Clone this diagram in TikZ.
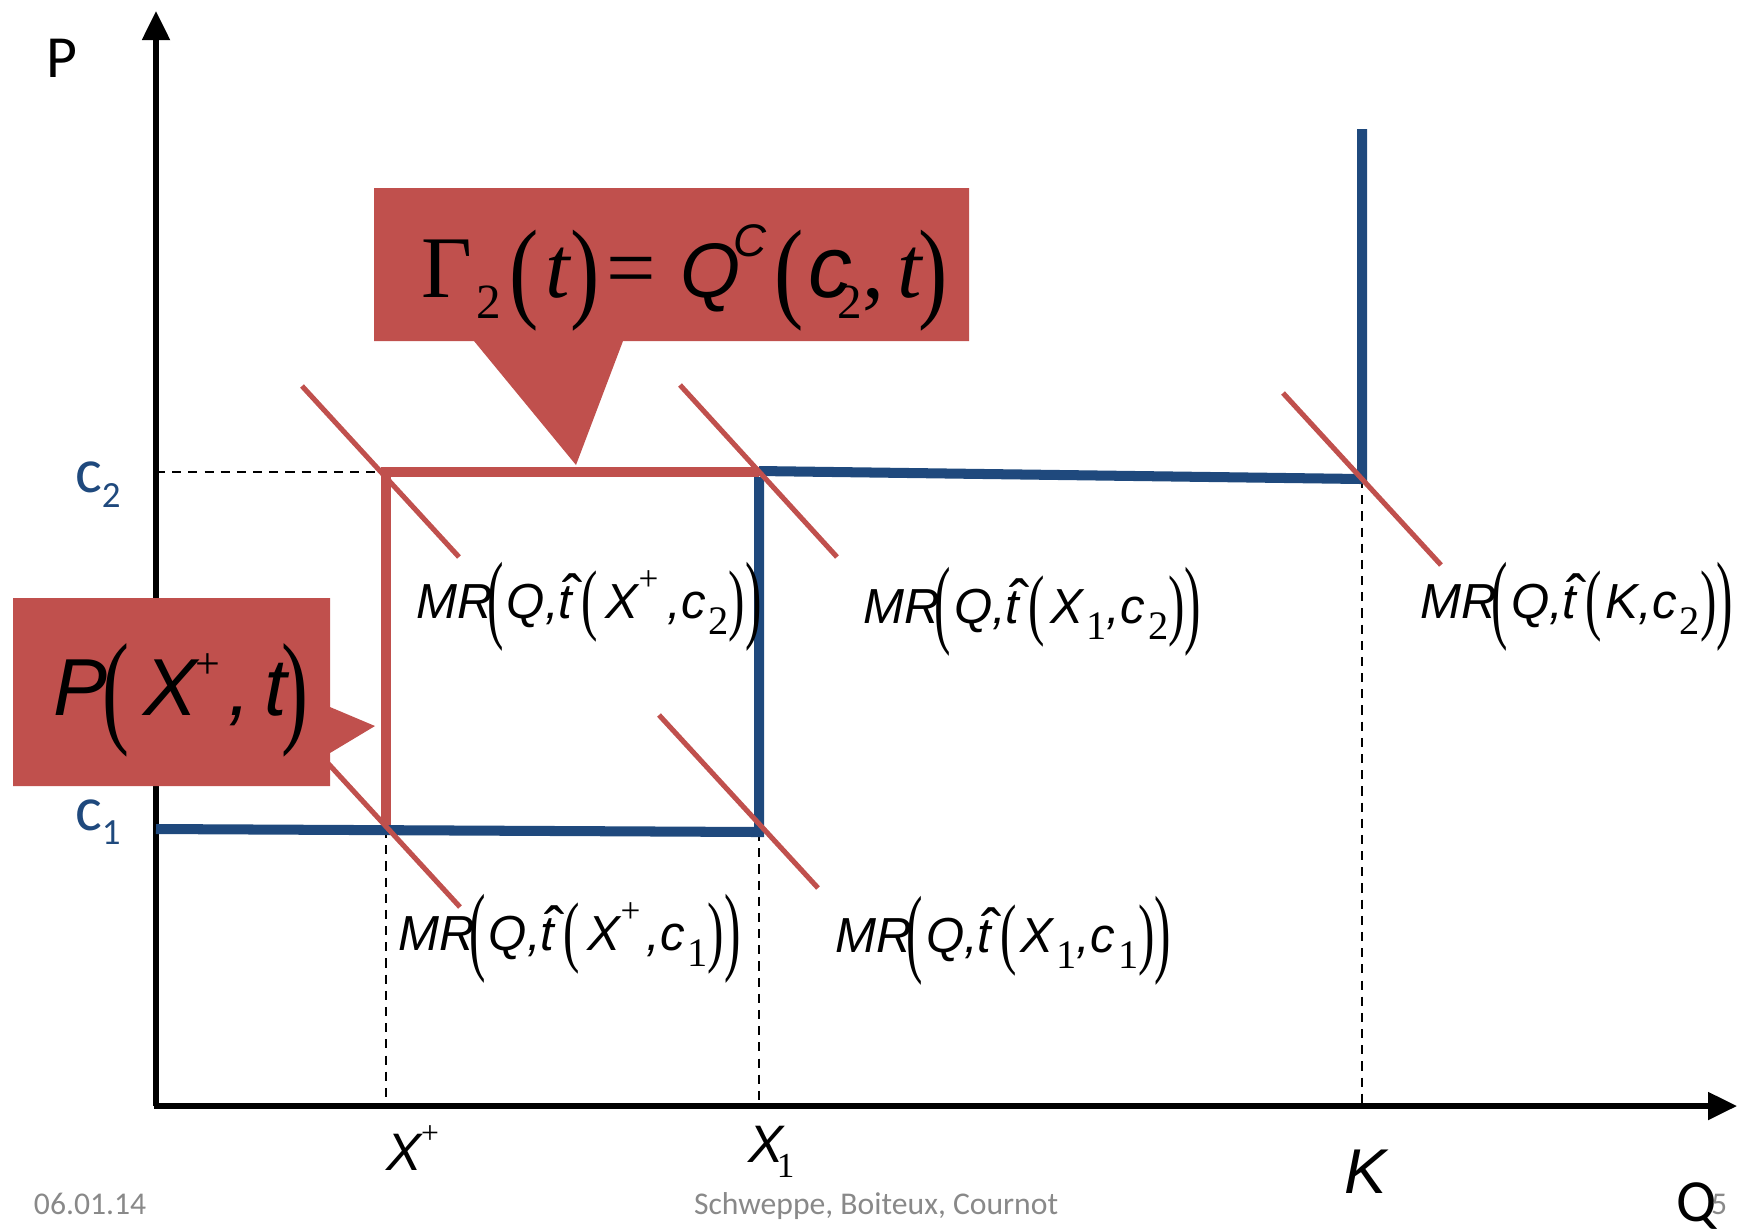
\documentclass[tikz,border=0pt]{standalone}
\usepackage{fontspec}
\usepackage{graphicx}
\usetikzlibrary{arrows.meta}
\setmainfont{Liberation Serif}
\newfontfamily\arl{Liberation Sans}
\newfontfamily\tms{Liberation Serif}
\newfontfamily\crl{Carlito}
\definecolor{cred}{RGB}{192,80,77}
\definecolor{cblue}{RGB}{31,73,125}
\definecolor{cgray}{RGB}{137,137,137}
% label helpers
\newcommand\hatt{\makebox[0pt][l]{\kern0.07em\scalebox{1.25}{\arl\upshape\char"02C6}}t\kern0.18em}
\newcommand\Lo{\kern-0.1em\raisebox{-0.26em}{\scalebox{1}[2.0]{\tms\upshape(}}\kern0.06em}
\newcommand\Ro{\raisebox{-0.26em}{\scalebox{1}[2.0]{\tms\upshape)}}}
\newcommand\Li{\raisebox{-0.16em}{\scalebox{1}[1.6]{\tms\upshape(}}\kern0.08em}
\newcommand\Ri{\raisebox{-0.16em}{\scalebox{1}[1.6]{\tms\upshape)}}}
\newcommand\Sb[1]{\kern0.06em\raisebox{-0.34em}{\fontsize{11.5}{11.5}\selectfont\tms\upshape #1}}
\newcommand\Sp[1]{\raisebox{0.55em}{\fontsize{10}{10}\selectfont\tms\upshape #1}}
\newcommand\mrfont{\fontsize{14}{14}\selectfont\arl\itshape}
\begin{document}
\begin{tikzpicture}[x=0.01cm,y=-0.01cm,
  lbl/.style={inner sep=0pt, outer sep=0pt, anchor=base west},
  axisline/.style={line width=1.45pt, draw=black},
  bluel/.style={line width=2.85pt, draw=cblue},
  redl/.style={line width=3.1pt, draw=cred},
  mrl/.style={line width=1.45pt, draw=cred},
  guide/.style={line width=0.6pt, dash pattern=on 2.6pt off 2pt},
  tip/.style={-{Triangle[width=0.27cm,length=0.29cm]}}
]
\useasboundingbox (0,0) rectangle (1755,1229);
% coordinates
\coordinate (O) at (156,1106);
\coordinate (Ytop) at (156,11);
\coordinate (Xend) at (1737,1106);
\coordinate (A) at (386,472);   % X+, c2
\coordinate (B) at (759,472);   % X1, c2
\coordinate (Ka) at (1362,479); % K, c2
\coordinate (Kt) at (1362,129);
\coordinate (A1) at (386,829);
\coordinate (B1) at (759,832);
\coordinate (Y1) at (156,829);
\coordinate (Y2) at (156,472);
\coordinate (Ab) at (386,1106);
\coordinate (Bb) at (759,1106);
\coordinate (Kb) at (1362,1106);
% dashed guides
\draw[guide] (Y2) -- (A);
\draw[guide] (A1) -- (Ab);
\draw[guide] (B1) -- (Bb);
\draw[guide] (Ka) -- (Kb);
% axes
\draw[axisline, tip] (O) -- (Ytop);
\draw[axisline, tip] ([xshift=-0.7pt]O) -- (Xend);
% red rectangle
\draw[redl] (A1) -- (A) -- (B);
% blue supply
\draw[bluel] (Y1) -- (B1) -- (759,477);
\draw[bluel] (759,471) -- (Ka) -- (Kt);
% MR lines
\coordinate (m1a) at (302,386); \coordinate (m1b) at (459,557);
\coordinate (m2a) at (680,385); \coordinate (m2b) at (837,557);
\coordinate (m3a) at (1283,393); \coordinate (m3b) at (1441,565);
\coordinate (m4a) at (302,735); \coordinate (m4b) at (460,907);
\coordinate (m5a) at (659,715); \coordinate (m5b) at (818,888);
\draw[mrl] (m1a) -- (m1b);
\draw[mrl] (m2a) -- (m2b);
\draw[mrl] (m3a) -- (m3b);
\draw[mrl] (m4a) -- (m4b);
\draw[mrl] (m5a) -- (m5b);
% callouts
\fill[cred] (374,188) -- (969,188) -- (969,341) -- (623,341) -- (576,465) -- (474,341) -- (374,341) -- cycle;
\fill[cred] (13,598) -- (330,598) -- (330,707) -- (375,726) -- (330,753) -- (330,786) -- (13,786) -- cycle;
% callout texts
\node[lbl] (gam) at (421,297) {\fontsize{25}{25}\selectfont\tms
  \char"0393\kern0.05em\raisebox{-6pt}{\fontsize{14}{14}\selectfont 2}\kern0.1em\raisebox{-0.12em}{\scalebox{1}[1.27]{(}}\kern0.08em{\itshape t}\raisebox{-0.12em}{\scalebox{1}[1.27]{)}}\kern0.08em=\kern0.27em{\fontsize{22}{22}\selectfont\arl\itshape Q}\kern-0.08em\raisebox{11.4pt}{\fontsize{13}{13}\selectfont\arl\itshape C}\kern0.1em\raisebox{-0.12em}{\scalebox{1}[1.27]{(}}\kern0.05em{\arl\itshape c}\kern-0.17em\raisebox{-6pt}{\fontsize{14}{14}\selectfont 2},\kern0.15em{\itshape t}\kern-0.04em\raisebox{-0.12em}{\scalebox{1}[1.27]{)}}};
\node[lbl] (pxt) at (53,715) {\fontsize{23}{23}\selectfont\arl\itshape
  P\kern-0.05em\raisebox{-0.19em}{\scalebox{1}[1.55]{\tms\upshape(}}\kern0.17em X\kern-0.02em\raisebox{10.3pt}{\fontsize{12.5}{12.5}\selectfont\tms\upshape +}\kern0.1em,\kern0.16em t\kern-0.06em\raisebox{-0.19em}{\scalebox{1}[1.55]{\tms\upshape)}}};
% MR labels
\node[lbl] (mr1) at (416,618) {\mrfont MR\Lo Q,\hatt\Li\kern0.08em X\Sp{+}\kern0.18em,c\Sb{2}\Ri\Ro};
\node[lbl] (mr2) at (863,623) {\mrfont MR\Lo Q,\hatt\Li\kern0.04em X\Sb{1},c\Sb{2}\Ri\Ro};
\node[lbl] (mr3) at (1420,618) {\mrfont MR\Lo Q,\hatt\Li K,c\Sb{2}\Ri\Ro};
\node[lbl] (mr4) at (398,950) {\mrfont MR\Lo Q,\hatt\Li\kern0.08em X\Sp{+}\kern0.12em,c\Sb{1}\Ri\Ro};
\node[lbl] (mr5) at (835,952) {\mrfont MR\Lo Q,\hatt\Li X\Sb{1},c\Sb{1}\Ri\Ro};
% axis labels
\node[lbl] (P) at (47,77) {\fontsize{17}{17}\selectfont\crl P};
\node[lbl] (Q) at (1676,1221) {\fontsize{17}{17}\selectfont\crl Q};
\node[lbl, text=cblue] (c2) at (75,492) {\fontsize{18}{18}\selectfont\crl c\raisebox{-4.5pt}{\fontsize{10.5}{10.5}\selectfont 2}};
\node[lbl, text=cblue] (c1) at (75,830) {\fontsize{18}{18}\selectfont\crl c\raisebox{-4pt}{\fontsize{10.5}{10.5}\selectfont 1}};
\node[lbl] (xplus) at (386,1170) {\fontsize{15}{15}\selectfont\arl\itshape X\raisebox{0.5em}{\fontsize{9}{9}\selectfont\tms\upshape +}};
\node[lbl] (x1) at (748,1162) {\fontsize{15}{15}\selectfont\arl\itshape X\kern-0.12em\raisebox{-0.3em}{\fontsize{10}{10}\selectfont\tms\upshape 1}};
\node[lbl] (K) at (1344,1193) {\fontsize{18}{18}\selectfont\arl\itshape K};
% footer
\node[lbl, text=cgray] (date) at (34,1214) {\fontsize{9}{9}\selectfont\crl 06.01.14};
\node[lbl, text=cgray] (title) at (694,1214) {\fontsize{9}{9}\selectfont\crl Schweppe, Boiteux, Cournot};
\node[lbl, text=cgray] (num) at (1711,1214) {\fontsize{9}{9}\selectfont\crl 5};
\end{tikzpicture}
\end{document}
